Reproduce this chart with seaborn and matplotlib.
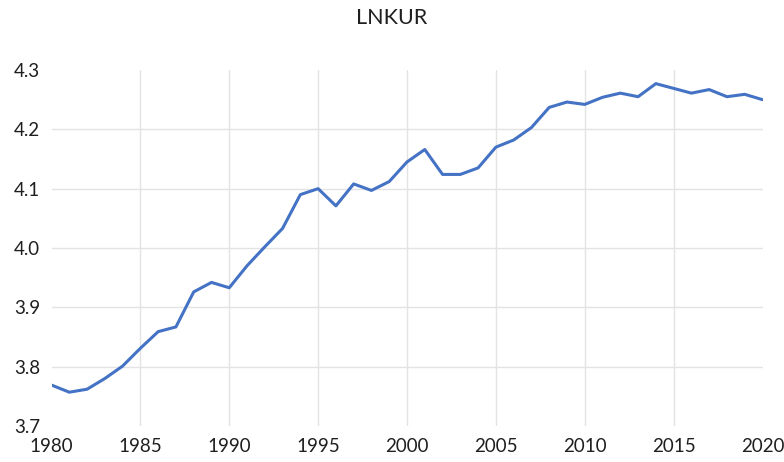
import matplotlib
matplotlib.use("Agg")
import matplotlib.pyplot as plt
import seaborn as sns
import pandas as pd

years = list(range(1980, 2021))
lnkur = [
    3.769, 3.757, 3.762, 3.780, 3.801, 3.831, 3.859, 3.867, 3.926, 3.942,
    3.933, 3.970, 4.002, 4.033, 4.090, 4.100, 4.071, 4.108, 4.097, 4.112,
    4.145, 4.166, 4.124, 4.124, 4.135, 4.170, 4.182, 4.203, 4.237, 4.246,
    4.242, 4.254, 4.261, 4.255, 4.277, 4.269, 4.261, 4.267, 4.255, 4.259,
    4.250,
]
x_ticks = [1980, 1985, 1990, 1995, 2000, 2005, 2010, 2015, 2020]
y_ticks = [3.7, 3.8, 3.9, 4.0, 4.1, 4.2, 4.3]
title = "LNKUR"

df = pd.DataFrame({"year": years, "value": lnkur})

sns.set_style("whitegrid", {"grid.color": "#e3e3e3"})
plt.rcParams["font.family"] = ["Lato", "DejaVu Sans"]

fig = plt.figure(figsize=(7.84, 4.62), dpi=100)
ax = fig.add_axes([51.5 / 784, 1 - 426 / 462, 711 / 784, 356 / 462])

sns.lineplot(data=df, x="year", y="value", ax=ax, color="#4472C4",
             linewidth=2.2, solid_joinstyle="round")

ax.set_xlim(1980, 2020)
ax.set_ylim(3.7, 4.3)
ax.set_xticks(x_ticks)
ax.set_yticks(y_ticks)
ax.set_yticklabels([f"{v:.1f}" for v in y_ticks])
ax.set_xlabel("")
ax.set_ylabel("")

for s in ax.spines.values():
    s.set_visible(False)
ax.grid(True, linewidth=1.0)
# no gridlines on the outer edges of the plot
for gl in (ax.xaxis.get_gridlines()[0], ax.xaxis.get_gridlines()[-1],
           ax.yaxis.get_gridlines()[0], ax.yaxis.get_gridlines()[-1]):
    gl.set_visible(False)

ax.tick_params(axis="both", length=0, labelsize=13.5, labelcolor="#1f1f1f")
ax.tick_params(axis="y", pad=8)
ax.tick_params(axis="x", pad=9)

fig.text(0.5, 1 - 18 / 462, title, ha="center", va="center",
         fontsize=15.5, color="#1f1f1f")

fig.savefig("out.png", dpi=100)
